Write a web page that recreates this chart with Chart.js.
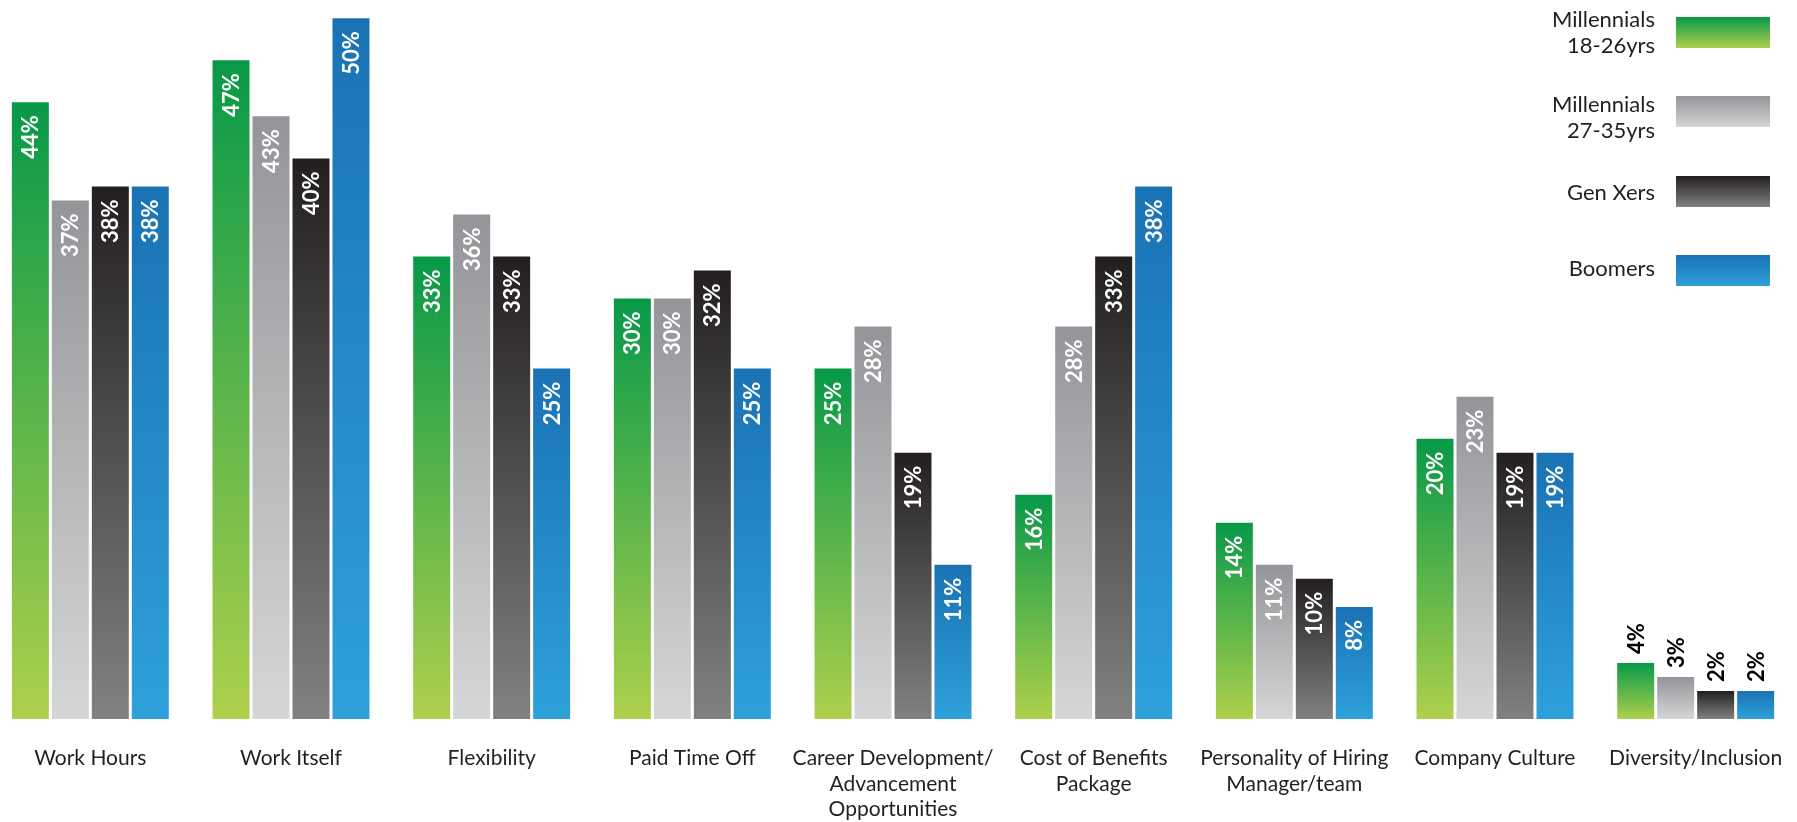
<!DOCTYPE html>
<html>
<head>
<meta charset="utf-8">
<script src="https://cdn.jsdelivr.net/npm/chart.js@4.4.0/dist/chart.umd.min.js"></script>
<style>
  body { margin: 0; background: #fff; overflow: hidden; width: 1797px; height: 822px; position: relative; font-family: Lato, "Noto Sans", sans-serif; }
  #wrap { position: absolute; left: -10px; top: 0; width: 1806px; height: 822px; }
  .lg-text { position: absolute; right: 142px; text-align: right; font-size: 22px; line-height: 26px; color: #231f20; }
  .lg-box { position: absolute; left: 1676px; width: 94px; height: 31px; }
</style>
</head>
<body>
<div id="wrap"><canvas id="myChart"></canvas></div>

<div class="lg-text" style="top:6px">Millennials<br>18-26yrs</div>
<div class="lg-box" style="top:17px;background:linear-gradient(#079948,#aed04c)"></div>
<div class="lg-text" style="top:91px">Millennials<br>27-35yrs</div>
<div class="lg-box" style="top:96px;background:linear-gradient(#939598,#d5d6d7)"></div>
<div class="lg-text" style="top:179px">Gen Xers</div>
<div class="lg-box" style="top:176px;background:linear-gradient(#231f20,#818181)"></div>
<div class="lg-text" style="top:255px">Boomers</div>
<div class="lg-box" style="top:255px;background:linear-gradient(#1a72b4,#2ea1da)"></div>

<script>
// Categorías y valores (%)
const categorias = [
    'Work Hours',
    'Work Itself',
    'Flexibility',
    'Paid Time Off',
    ['Career Development/', 'Advancement', 'Opportunities'],
    ['Cost of Benefits', 'Package'],
    ['Personality of Hiring', 'Manager/team'],
    'Company Culture',
    'Diversity/Inclusion'
];
const series = ['Millennials 18-26yrs', 'Millennials 27-35yrs', 'Gen Xers', 'Boomers'];
const millennials1826 = [44, 47, 33, 30, 25, 16, 14, 20, 4];
const millennials2735 = [37, 43, 36, 30, 28, 28, 11, 23, 3];
const genXers = [38, 40, 33, 32, 19, 33, 10, 19, 2];
const boomers = [38, 50, 25, 25, 11, 38, 8, 19, 2];

// Degradados: [arriba, abajo]
const colores = [
    ['#079948', '#aed04c'],
    ['#939598', '#d5d6d7'],
    ['#231f20', '#818181'],
    ['#1a72b4', '#2ea1da']
];

function gradiente(pair) {
    return (context) => {
        const chart = context.chart;
        if (!chart.chartArea || context.raw === undefined) return pair[0];
        const y = chart.scales.y;
        const g = chart.ctx.createLinearGradient(0, y.getPixelForValue(context.raw), 0, y.getPixelForValue(0));
        g.addColorStop(0, pair[0]);
        g.addColorStop(1, pair[1]);
        return g;
    };
}

// Etiquetas de porcentaje rotadas
const etiquetas = {
    id: 'etiquetas',
    afterDatasetsDraw(chart) {
        const ctx = chart.ctx;
        ctx.save();
        ctx.font = 'bold 22px Lato, "Noto Sans", sans-serif';
        ctx.textBaseline = 'middle';
        chart.data.datasets.forEach((ds, i) => {
            chart.getDatasetMeta(i).data.forEach((bar, j) => {
                const v = ds.data[j];
                const dentro = v >= 8;
                ctx.save();
                ctx.translate(bar.x, bar.y);
                ctx.rotate(-Math.PI / 2);
                if (dentro) {
                    ctx.fillStyle = '#ffffff';
                    ctx.textAlign = 'right';
                    ctx.fillText(v + '%', -13, 1);
                } else {
                    ctx.fillStyle = '#000000';
                    ctx.textAlign = 'left';
                    ctx.fillText(v + '%', 9, 1);
                }
                ctx.restore();
            });
        });
        ctx.restore();
    }
};

const valores = [millennials1826, millennials2735, genXers, boomers];

new Chart(document.getElementById('myChart').getContext('2d'), {
    type: 'bar',
    data: {
        labels: categorias,
        datasets: valores.map((data, i) => ({
            label: series[i],
            data: data,
            backgroundColor: gradiente(colores[i]),
            borderWidth: 0,
            barPercentage: 0.925,
            categoryPercentage: 0.797
        }))
    },
    options: {
        responsive: true,
        maintainAspectRatio: false,
        animation: false,
        layout: { padding: 0 },
        plugins: {
            legend: { display: false },
            tooltip: { enabled: false }
        },
        scales: {
            x: {
                grid: { display: false, drawTicks: false },
                border: { display: false },
                ticks: {
                    color: '#231f20',
                    font: { family: 'Lato, "Noto Sans", sans-serif', size: 21, lineHeight: 1.2 },
                    padding: 27,
                    autoSkip: false,
                    maxRotation: 0
                },
                afterFit: (scale) => {
                    scale.height = 103;
                    scale.paddingLeft = 0;
                    scale.paddingRight = 0;
                }
            },
            y: {
                display: false,
                beginAtZero: true,
                min: 0,
                max: 51.3
            }
        }
    },
    plugins: [etiquetas]
});
</script>
</body>
</html>
